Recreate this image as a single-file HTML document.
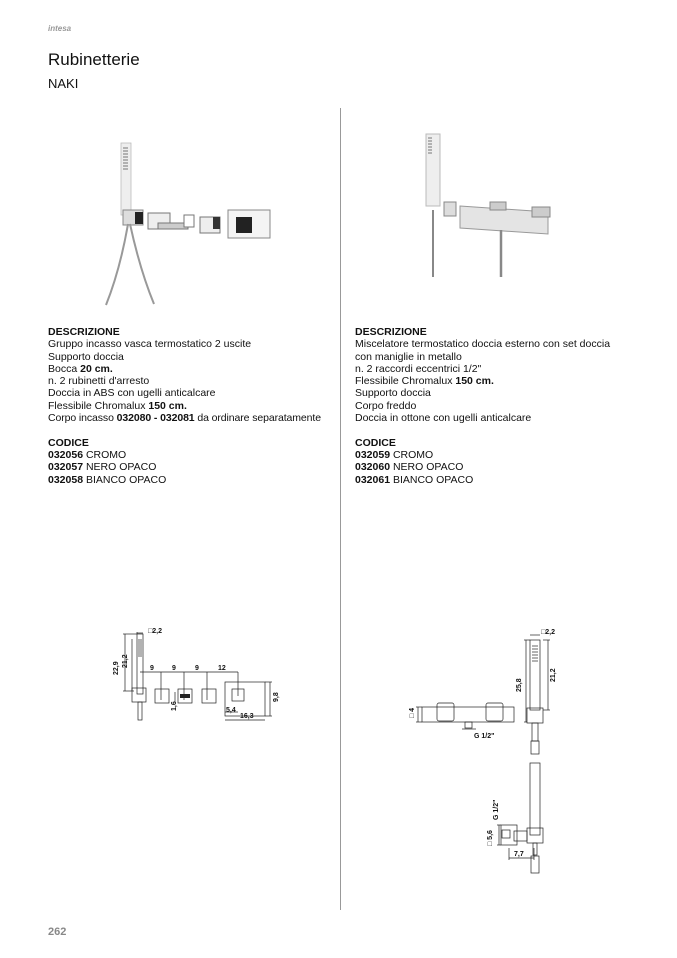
<!DOCTYPE html>
<html><head><meta charset="utf-8"><style>
body{margin:0;width:677px;height:958px;background:#fff;position:relative;overflow:hidden;font-family:"Liberation Sans",sans-serif;color:#111}
.t{position:absolute;white-space:nowrap}
.col{position:absolute;font-size:10.5px;line-height:12.3px;letter-spacing:0}
b{font-weight:bold}
</style></head><body>
<div class="t" style="left:48px;top:24px;font-size:8px;color:#999;font-style:italic;font-weight:bold">intesa</div>
<div class="t" style="left:48px;top:50px;font-size:17px;color:#111">Rubinetterie</div>
<div class="t" style="left:48px;top:76px;font-size:13px;color:#111">NAKI</div>
<div style="position:absolute;left:340px;top:108px;width:1px;height:802px;background:#999"></div>

<svg style="position:absolute;left:90px;top:120px" width="200" height="200">
<rect x="31" y="23" width="10" height="72" fill="#eee" stroke="#bbb" stroke-width="0.8"/>
<g stroke="#777" stroke-width="1"><line x1="33" y1="28" x2="38" y2="28"/><line x1="33" y1="31" x2="38" y2="31"/><line x1="33" y1="34" x2="38" y2="34"/><line x1="33" y1="37" x2="38" y2="37"/><line x1="33" y1="40" x2="38" y2="40"/><line x1="33" y1="43" x2="38" y2="43"/><line x1="33" y1="46" x2="38" y2="46"/><line x1="33" y1="49" x2="38" y2="49"/></g>
<rect x="33" y="90" width="20" height="15" fill="#ddd" stroke="#888"/><rect x="45" y="92" width="8" height="12" fill="#222"/>
<path d="M38 104 Q30 150 16 185 M40 104 Q50 150 64 184" stroke="#999" stroke-width="2" fill="none"/>
<rect x="58" y="93" width="22" height="16" fill="#eee" stroke="#777"/><rect x="68" y="103" width="30" height="6" fill="#ccc" stroke="#777"/><rect x="94" y="95" width="10" height="12" fill="#fff" stroke="#777"/>
<rect x="110" y="97" width="20" height="16" fill="#eee" stroke="#777"/><rect x="123" y="97" width="7" height="12" fill="#333"/>
<rect x="138" y="90" width="42" height="28" fill="#f4f4f4" stroke="#888"/><rect x="146" y="97" width="16" height="16" fill="#222"/>
</svg>

<svg style="position:absolute;left:400px;top:120px" width="180" height="170">
<rect x="26" y="14" width="14" height="72" fill="#eee" stroke="#bbb"/>
<g stroke="#777"><line x1="28" y1="18" x2="32" y2="18"/><line x1="28" y1="21" x2="32" y2="21"/><line x1="28" y1="24" x2="32" y2="24"/><line x1="28" y1="27" x2="32" y2="27"/><line x1="28" y1="30" x2="32" y2="30"/><line x1="28" y1="33" x2="32" y2="33"/></g>
<rect x="44" y="82" width="12" height="14" fill="#ddd" stroke="#888"/>
<line x1="33" y1="90" x2="33" y2="157" stroke="#888" stroke-width="2"/>
<path d="M60 86 L148 92 L148 114 L60 108 Z" fill="#e4e4e4" stroke="#999"/>
<rect x="90" y="82" width="16" height="8" fill="#ccc" stroke="#888"/><rect x="132" y="87" width="18" height="10" fill="#ccc" stroke="#888"/>
<line x1="101" y1="110" x2="101" y2="157" stroke="#888" stroke-width="2.5"/>
</svg>

<div class="col" style="left:48px;top:326px">
<b>DESCRIZIONE</b><br>Gruppo incasso vasca termostatico 2 uscite<br>Supporto doccia<br>Bocca <b>20 cm.</b><br>n. 2 rubinetti d'arresto<br>Doccia in ABS con ugelli anticalcare<br>Flessibile Chromalux <b>150 cm.</b><br><span style="letter-spacing:-0.1px">Corpo incasso <b>032080 - 032081</b> da ordinare separatamente</span><br><br><b>CODICE</b><br><b>032056</b> CROMO<br><b>032057</b> NERO OPACO<br><b>032058</b> BIANCO OPACO
</div>
<div class="col" style="left:355px;top:326px">
<b>DESCRIZIONE</b><br>Miscelatore termostatico doccia esterno con set doccia<br>con maniglie in metallo<br>n. 2 raccordi eccentrici 1/2"<br>Flessibile Chromalux <b>150 cm.</b><br>Supporto doccia<br>Corpo freddo<br>Doccia in ottone con ugelli anticalcare<br><br><b>CODICE</b><br><b>032059</b> CROMO<br><b>032060</b> NERO OPACO<br><b>032061</b> BIANCO OPACO
</div>

<svg style="position:absolute;left:110px;top:620px" width="180" height="110" font-family="Liberation Sans" font-size="7" font-weight="bold">
<g stroke="#222" stroke-width="0.7" fill="none">
<rect x="27" y="14" width="6" height="60"/>
<line x1="28" y1="20" x2="32" y2="20"/><line x1="28" y1="22" x2="32" y2="22"/><line x1="28" y1="24" x2="32" y2="24"/><line x1="28" y1="26" x2="32" y2="26"/><line x1="28" y1="28" x2="32" y2="28"/><line x1="28" y1="30" x2="32" y2="30"/><line x1="28" y1="32" x2="32" y2="32"/><line x1="28" y1="34" x2="32" y2="34"/><line x1="28" y1="36" x2="32" y2="36"/>
<rect x="22" y="68" width="14" height="14"/><rect x="28" y="82" width="4" height="18"/>
<line x1="27" y1="14" x2="27" y2="12"/><line x1="27" y1="13" x2="33" y2="13"/>
<line x1="13" y1="14" x2="27" y2="14"/><line x1="15" y1="14" x2="15" y2="71"/><line x1="13" y1="71" x2="24" y2="71"/>
<line x1="22" y1="19" x2="22" y2="71"/>
<line x1="30" y1="52" x2="128" y2="52"/>
<line x1="51" y1="52" x2="51" y2="80"/><line x1="74" y1="52" x2="74" y2="80"/><line x1="97" y1="52" x2="97" y2="80"/><line x1="128" y1="52" x2="128" y2="76"/>
<rect x="45" y="69" width="14" height="14"/><rect x="68" y="69" width="14" height="14"/><rect x="92" y="69" width="14" height="14"/>
<rect x="115" y="62" width="40" height="34"/><rect x="122" y="69" width="12" height="12"/>
<line x1="155" y1="62" x2="162" y2="62"/><line x1="155" y1="96" x2="162" y2="96"/><line x1="160" y1="62" x2="160" y2="96"/>
<line x1="115" y1="100" x2="155" y2="100"/><line x1="115" y1="92" x2="128" y2="92"/>
<line x1="65" y1="72" x2="65" y2="82"/>
</g>
<rect x="70" y="74" width="10" height="4" fill="#222"/>
<g fill="#111">
<text x="38" y="13">□2,2</text>
<text x="8" y="55" transform="rotate(-90 8 55)">22,9</text>
<text x="17" y="48" transform="rotate(-90 17 48)">21,2</text>
<text x="40" y="50">9</text><text x="62" y="50">9</text><text x="85" y="50">9</text><text x="108" y="50">12</text>
<text x="66" y="91" transform="rotate(-90 66 91)">1,6</text>
<text x="168" y="82" transform="rotate(-90 168 82)">9,8</text>
<text x="116" y="92">5,4</text><text x="130" y="98">16,3</text>
</g>
</svg>

<svg style="position:absolute;left:400px;top:620px" width="180" height="270" font-family="Liberation Sans" font-size="7" font-weight="bold">
<g stroke="#222" stroke-width="0.7" fill="none">
<rect x="130" y="20" width="10" height="70"/>
<line x1="132" y1="26" x2="138" y2="26"/><line x1="132" y1="29" x2="138" y2="29"/><line x1="132" y1="32" x2="138" y2="32"/><line x1="132" y1="35" x2="138" y2="35"/><line x1="132" y1="38" x2="138" y2="38"/><line x1="132" y1="41" x2="138" y2="41"/>
<rect x="127" y="88" width="16" height="15"/><rect x="132" y="103" width="6" height="18"/><rect x="131" y="121" width="8" height="13"/>
<line x1="130" y1="15" x2="140" y2="15"/>
<line x1="124" y1="20" x2="130" y2="20"/><line x1="126" y1="20" x2="126" y2="102"/><line x1="124" y1="102" x2="127" y2="102"/>
<line x1="143" y1="20" x2="150" y2="20"/><line x1="148" y1="20" x2="148" y2="90"/><line x1="143" y1="90" x2="150" y2="90"/>
<rect x="22" y="87" width="92" height="15"/><rect x="37" y="83" width="17" height="18" rx="2"/><rect x="86" y="83" width="17" height="18" rx="2"/>
<rect x="65" y="102" width="7" height="6"/>
<line x1="16" y1="87" x2="22" y2="87"/><line x1="16" y1="102" x2="22" y2="102"/><line x1="18" y1="87" x2="18" y2="102"/>
<line x1="62" y1="109" x2="76" y2="109"/>
<rect x="130" y="143" width="10" height="72"/>
<rect x="127" y="208" width="16" height="15"/><rect x="114" y="211" width="13" height="10"/>
<rect x="101" y="205" width="16" height="20"/><rect x="102" y="210" width="8" height="8"/>
<rect x="133" y="223" width="4" height="12"/><rect x="131" y="236" width="8" height="17"/>
<line x1="97" y1="205" x2="101" y2="205"/><line x1="97" y1="225" x2="101" y2="225"/><line x1="99" y1="205" x2="99" y2="225"/>
<line x1="109" y1="228" x2="109" y2="240"/><line x1="134" y1="228" x2="134" y2="240"/><line x1="109" y1="238" x2="134" y2="238"/>
</g>
<g fill="#111">
<text x="141" y="14">□2,2</text>
<text x="121" y="72" transform="rotate(-90 121 72)">25,8</text>
<text x="155" y="62" transform="rotate(-90 155 62)">21,2</text>
<text x="14" y="98" transform="rotate(-90 14 98)">□ 4</text>
<text x="74" y="118">G 1/2"</text>
<text x="98" y="200" transform="rotate(-90 98 200)">G 1/2"</text>
<text x="92" y="226" transform="rotate(-90 92 226)">□ 5,6</text>
<text x="114" y="236">7,7</text>
</g>
</svg>

<div class="t" style="left:48px;top:926px;font-size:11px;font-weight:bold;color:#888">262</div>
</body></html>
